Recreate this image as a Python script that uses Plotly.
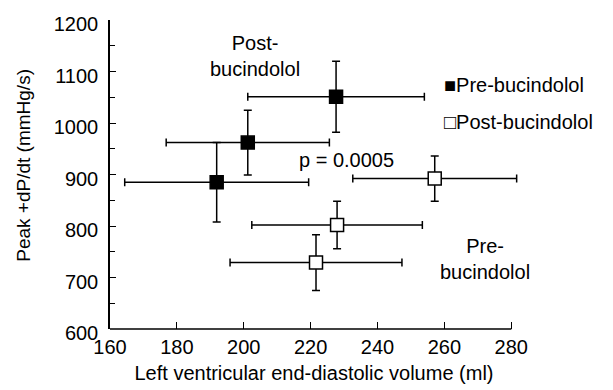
import plotly.graph_objects as go

# ---- data ----
pre_x = [191.9, 201.2, 227.6]
pre_y = [885, 962, 1051]
pre_xerr = [27.5, 24.4, 26.4]
pre_yerr = [77, 63, 69]

post_x = [221.6, 227.9, 257.1]
post_y = [729, 802, 892]
post_xerr = [25.7, 25.5, 24.5]
post_yerr = [54, 46, 44]

x_ticks = [160, 180, 200, 220, 240, 260, 280]
y_ticks = [600, 700, 800, 900, 1000, 1100, 1200]

FONT = "Liberation Sans, Arial, Helvetica, sans-serif"
FS = 20

fig = go.Figure()

def add_series(xs, ys, xe, ye, fill, name):
    fig.add_trace(go.Scatter(
        x=xs, y=ys, mode="markers", name=name, showlegend=False,
        cliponaxis=False,
        marker=dict(symbol="square", size=13, color=fill,
                    line=dict(color="black", width=1.5)),
        error_x=dict(type="data", array=xe, color="black", thickness=1.5, width=4),
        error_y=dict(type="data", array=ye, color="black", thickness=1.5, width=4),
    ))

add_series(pre_x, pre_y, pre_xerr, pre_yerr, "black", "Pre-bucindolol")
add_series(post_x, post_y, post_xerr, post_yerr, "white", "Post-bucindolol")

annos = [
    dict(x=203.4, y=1131, text="Post-<br>bucindolol", xanchor="center", yanchor="middle"),
    dict(x=230.6, y=928, text="p = 0.0005", xanchor="center", yanchor="middle"),
    dict(x=272.2, y=736, text="Pre-<br>bucindolol", xanchor="center", yanchor="middle"),
    dict(x=259.4, y=1074, text="■Pre-bucindolol", xanchor="left", yanchor="middle"),
    dict(x=259.4, y=1002, text="□Post-bucindolol", xanchor="left", yanchor="middle"),
]
for a in annos:
    fig.add_annotation(xref="x", yref="y", showarrow=False,
                       font=dict(family=FONT, size=FS, color="black"), **a)

fig.add_annotation(xref="paper", yref="paper", x=-0.212, y=0.53,
                   text="Peak +dP/dt (mmHg/s)", textangle=-90, showarrow=False,
                   xanchor="center", yanchor="middle",
                   font=dict(family=FONT, size=19, color="black"))

X_MIN, X_MAX, X_PAD = 160, 280, 2
# bottom axis line drawn only from 160 to 280 (the error bar may run a little past it)
fig.add_shape(type="line", xref="x", yref="paper", x0=X_MIN, x1=X_MAX, y0=0, y1=0,
              line=dict(color="black", width=1.5), layer="above")

# the page body has an 8px default margin, so the figure is sized to the visible area
fig.update_layout(
    template="none",
    width=605, height=382,
    margin=dict(l=102, r=95, t=12, b=61, autoexpand=False),
    paper_bgcolor="white", plot_bgcolor="white",
    font=dict(family=FONT, size=FS, color="black"),
    xaxis=dict(
        range=[X_MIN, X_MAX + X_PAD], tickvals=x_ticks, ticktext=[str(v) for v in x_ticks],
        automargin=False,
        showgrid=False, zeroline=False, showline=False,
        ticks="inside", ticklen=7, tickwidth=1.3, tickcolor="black",
        ticklabelstandoff=4,
        title=dict(text="Left ventricular end-diastolic volume (ml)", standoff=8,
                   font=dict(family=FONT, size=FS, color="black")),
    ),
    yaxis=dict(
        range=[600, 1200], tickvals=y_ticks, ticktext=[str(v) for v in y_ticks],
        automargin=False, ticklabeloverflow="allow",
        showgrid=False, zeroline=False, showline=True, linecolor="black", linewidth=1.5,
        ticks="inside", ticklen=6, tickwidth=1.3, tickcolor="black",
        minor=dict(dtick=50, tick0=600, ticks="inside", ticklen=5, tickwidth=1.2, tickcolor="black"),
        ticklabelstandoff=6, ticklabelshift=4,
    ),
)

fig.write_html("out.html")
